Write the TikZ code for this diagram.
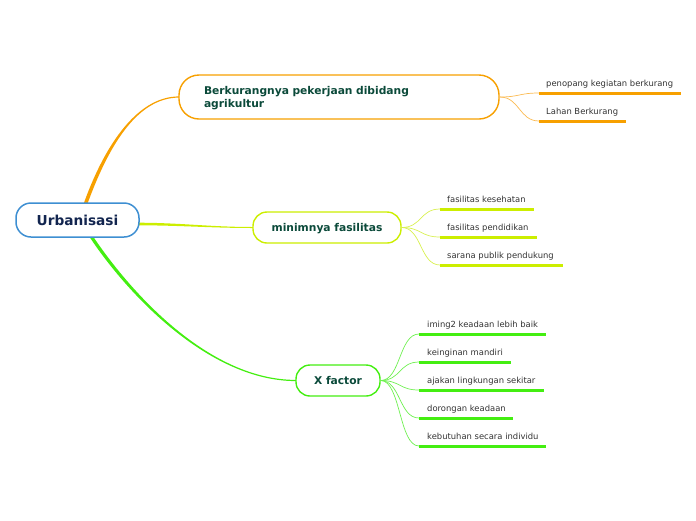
\documentclass[tikz,border=0pt]{standalone}
\usepackage{fontspec}
\setmainfont{DejaVu Sans}
\usetikzlibrary{calc}
\definecolor{cBlue}{HTML}{3E8FD2}
\definecolor{cRootT}{HTML}{12254F}
\definecolor{cBrT}{HTML}{0B4A3A}
\definecolor{cChT}{HTML}{333333}
\definecolor{cOr}{HTML}{F7A000}
\definecolor{cOrL}{HTML}{FBBA50}
\definecolor{cLi}{HTML}{CCEE00}
\definecolor{cLiL}{HTML}{D8F050}
\definecolor{cGr}{HTML}{44EE11}
\definecolor{cGrL}{HTML}{6EF050}
\tikzset{
  rootbox/.style={draw=cBlue, line width=1.5pt, fill=white, rounded corners=15pt,
    minimum width=123pt, minimum height=34pt, inner sep=0pt,
    font=\fontsize{13.7}{16}\selectfont\bfseries, text=cRootT},
  branchbox/.style={fill=white, line width=1.4pt, inner sep=0pt,
    font=\fontsize{10.7}{13.3}\selectfont\bfseries, text=cBrT},
  childtext/.style={inner sep=0pt, anchor=base west,
    font=\fontsize{8.4}{10}\selectfont, text=cChT},
  uline/.style={line width=3pt},
  twig/.style={line width=0.7pt},
}
\begin{document}
\begin{tikzpicture}[x=1pt,y=-1pt]
\useasboundingbox (0,0) rectangle (696,520);

\coordinate (rc) at (77.5,220);
\coordinate (b1c) at (339,97);
\coordinate (b2c) at (327,227.5);
\coordinate (b3c) at (338,380.5);

\path (rc) node[rootbox, draw=none, fill=none, text opacity=0] (root0) {Urbanisasi};

\coordinate (r1) at ($(root0.north)+(7.5,3)$);
\coordinate (r2) at ($(root0.east)+(-3,4)$);
\coordinate (r3) at ($(root0.south)+(12.5,-3)$);
\coordinate (b1w) at (179,97);
\coordinate (b2w) at (253,227.5);
\coordinate (b3w) at (296,380.5);

% main tapered connectors
\fill[cOr] ($(r1)+(-1.9,0)$) .. controls ($(r1)+(17.5,-55)$) and ($(b1w)+(-44,-0.6)$) .. ($(b1w)+(0,-0.6)$)
   -- ($(b1w)+(0,0.6)$) .. controls ($(b1w)+(-44,0.6)$) and ($(r1)+(21.5,-54)$) .. ($(r1)+(1.9,0)$) -- cycle;
\fill[cLi] ($(r2)+(0,-1.3)$) .. controls ($(r2)+(44,-1.3)$) and ($(b2w)+(-43,-0.5)$) .. ($(b2w)+(0,-0.5)$)
   -- ($(b2w)+(0,0.5)$) .. controls ($(b2w)+(-43,0.5)$) and ($(r2)+(44,1.3)$) .. ($(r2)+(0,1.3)$) -- cycle;
\fill[cGr] ($(r3)+(-1.9,0)$) .. controls ($(r3)+(38,61)$) and ($(b3w)+(-86,0.6)$) .. ($(b3w)+(0,0.6)$)
   -- ($(b3w)+(0,-0.6)$) .. controls ($(b3w)+(-86,-0.6)$) and ($(r3)+(42,60)$) .. ($(r3)+(1.9,0)$) -- cycle;

% boxes
\node[rootbox] (root) at (rc) {Urbanisasi};
\node[branchbox, draw=cOr, rounded corners=20pt, minimum width=320pt, minimum height=44pt,
  text width=270pt, align=left, inner xsep=25pt, text depth=12.8pt] (b1) at (b1c)
  {Berkurangnya pekerjaan dibidang\\agrikultur};
\node[branchbox, draw=cLi, rounded corners=14pt, minimum width=148pt, minimum height=31pt,
  text depth=0pt] (b2) at (b2c) {minimnya fasilitas};
\node[branchbox, draw=cGr, rounded corners=14pt, minimum width=84pt, minimum height=31pt,
  text depth=0pt] (b3) at (b3c) {X factor};

% ---- branch 1 children
\coordinate (u11s) at (539,93);  \coordinate (u11e) at (681,93);
\coordinate (u12s) at (539,121); \coordinate (u12e) at (626,121);
\foreach \u in {u11s,u12s}
  \draw[twig, cOrL] (b1.east) .. controls +(20,0) and +(-20,0) .. (\u);
\draw[uline, cOr] (u11s) -- (u11e);
\draw[uline, cOr] (u12s) -- (u12e);
\node[childtext] (t11) at ($(u11s)+(7,-6.5)$) {penopang kegiatan berkurang};
\node[childtext] (t12) at ($(u12s)+(7,-6.5)$) {Lahan Berkurang};

% ---- branch 2 children
\coordinate (u21s) at (440,209); \coordinate (u21e) at (534,209);
\coordinate (u22s) at (440,237); \coordinate (u22e) at (537,237);
\coordinate (u23s) at (440,265); \coordinate (u23e) at (563,265);
\foreach \u in {u21s,u22s,u23s}
  \draw[twig, cLiL] (b2.east) .. controls +(20,0) and +(-20,0) .. (\u);
\draw[uline, cLi] (u21s) -- (u21e);
\draw[uline, cLi] (u22s) -- (u22e);
\draw[uline, cLi] (u23s) -- (u23e);
\node[childtext] (t21) at ($(u21s)+(7,-6.5)$) {fasilitas kesehatan};
\node[childtext] (t22) at ($(u22s)+(7,-6.5)$) {fasilitas pendidikan};
\node[childtext] (t23) at ($(u23s)+(7,-6.5)$) {sarana publik pendukung};

% ---- branch 3 children
\coordinate (u31s) at (419,334); \coordinate (u31e) at (546,334);
\coordinate (u32s) at (419,362); \coordinate (u32e) at (511,362);
\coordinate (u33s) at (419,390); \coordinate (u33e) at (544,390);
\coordinate (u34s) at (419,418); \coordinate (u34e) at (513,418);
\coordinate (u35s) at (419,446); \coordinate (u35e) at (546,446);
\foreach \u in {u31s,u32s,u33s,u34s,u35s}
  \draw[twig, cGrL] (b3.east) .. controls +(20,0) and +(-20,0) .. (\u);
\draw[uline, cGr] (u31s) -- (u31e);
\draw[uline, cGr] (u32s) -- (u32e);
\draw[uline, cGr] (u33s) -- (u33e);
\draw[uline, cGr] (u34s) -- (u34e);
\draw[uline, cGr] (u35s) -- (u35e);
\node[childtext] (t31) at ($(u31s)+(8,-6.5)$) {iming2 keadaan lebih baik};
\node[childtext] (t32) at ($(u32s)+(8,-6.5)$) {keinginan mandiri};
\node[childtext] (t33) at ($(u33s)+(8,-6.5)$) {ajakan lingkungan sekitar};
\node[childtext] (t34) at ($(u34s)+(8,-6.5)$) {dorongan keadaan};
\node[childtext] (t35) at ($(u35s)+(8,-6.5)$) {kebutuhan secara individu};
\end{tikzpicture}
\end{document}
